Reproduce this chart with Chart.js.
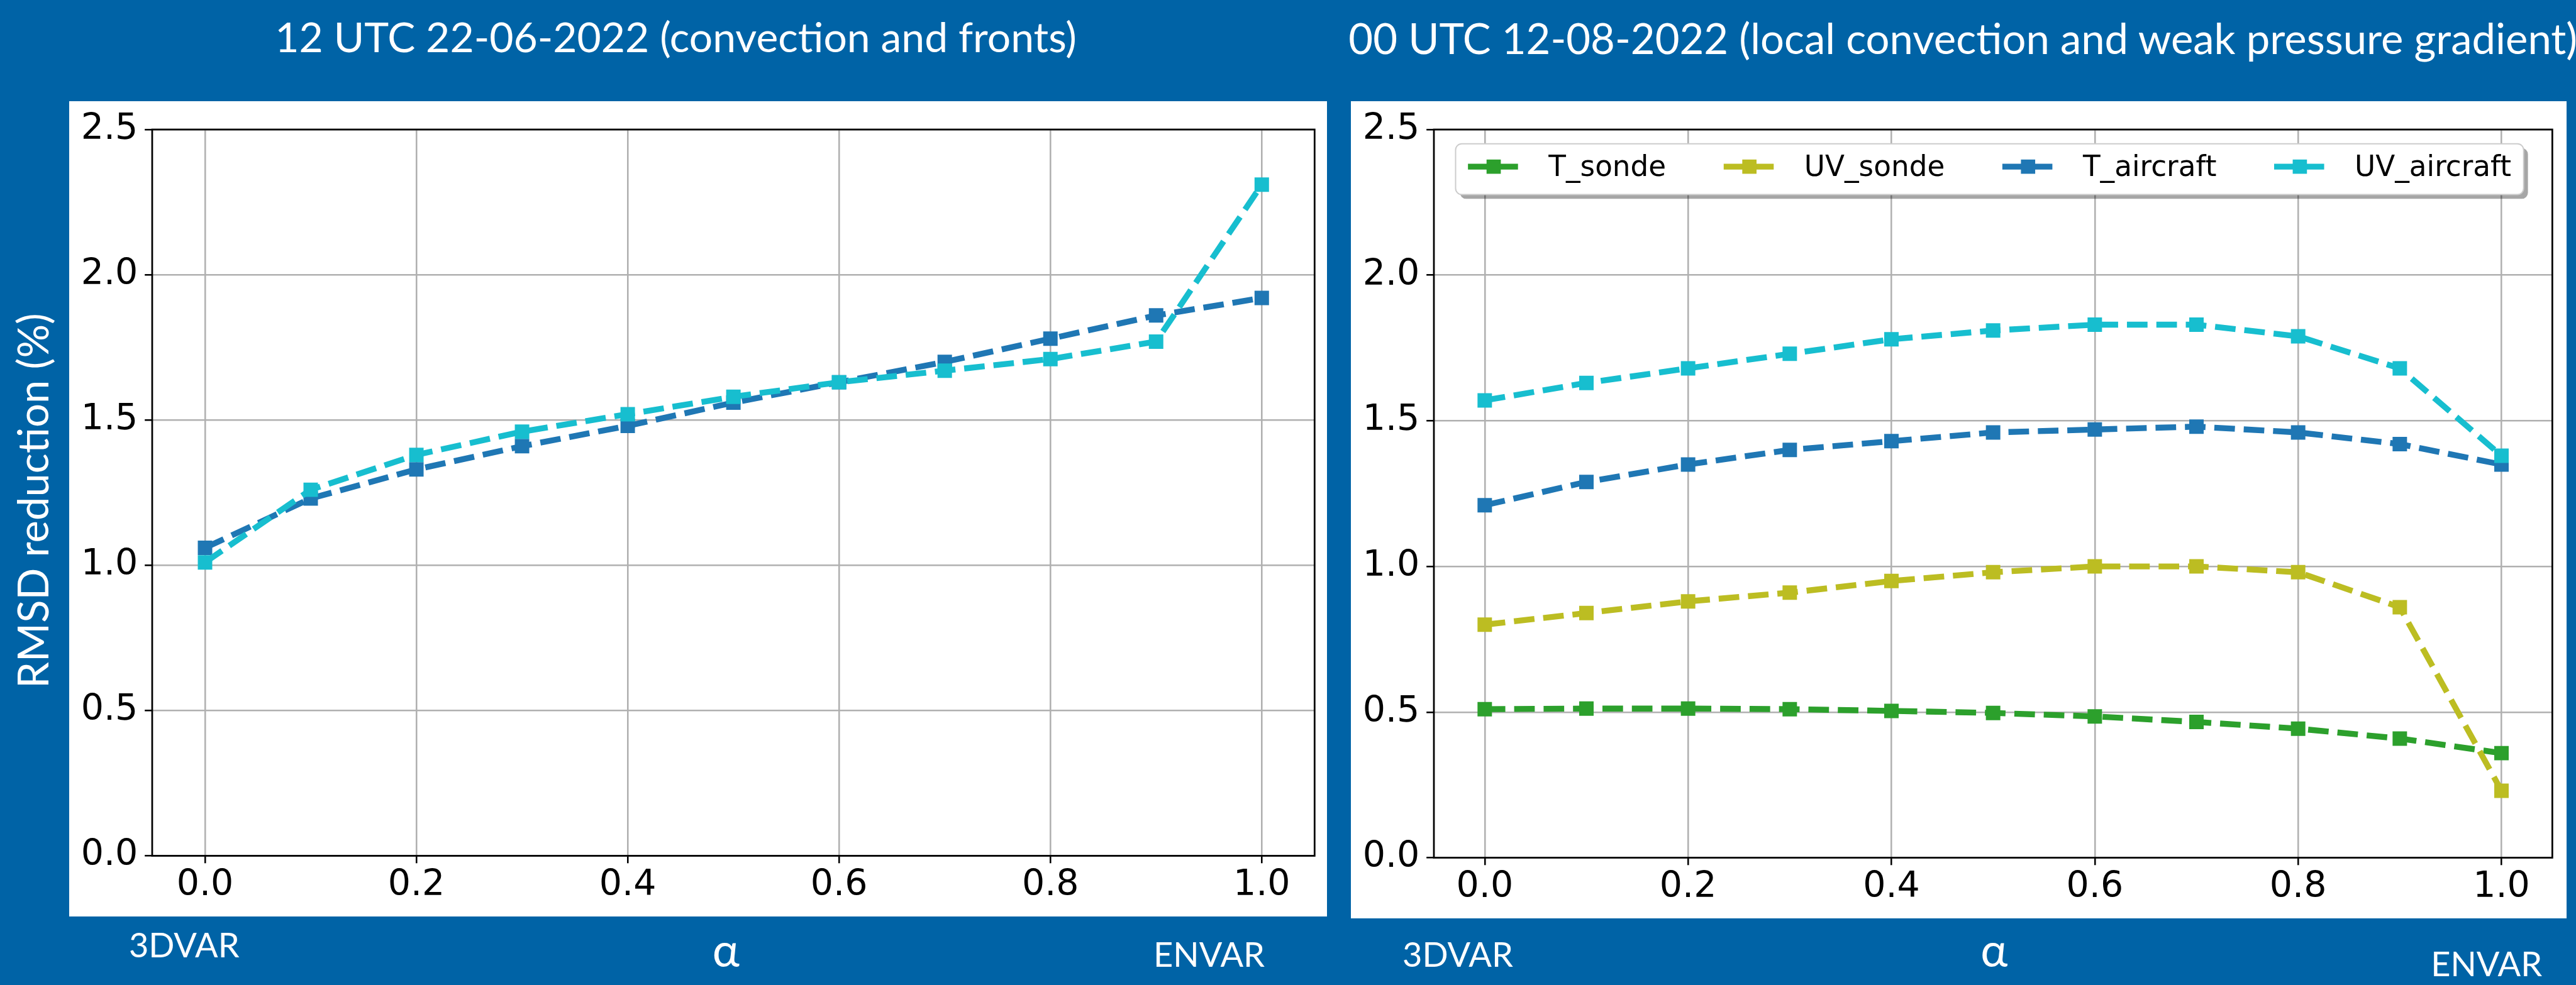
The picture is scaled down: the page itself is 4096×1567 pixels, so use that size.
<!DOCTYPE html>
<html>
<head>
<meta charset="utf-8">
<title>RMSD reduction vs alpha</title>
<script src="https://cdn.jsdelivr.net/npm/chart.js"></script>
<style>
  html, body { margin: 0; padding: 0; }
  body { width: 4096px; height: 1567px; background: #0063a6; position: relative; overflow: hidden; }
  .txt { position: absolute; color: #fff; font-family: Lato, "Open Sans", sans-serif; white-space: nowrap; line-height: 1; }
  canvas { position: absolute; background: #fff; }
</style>
</head>
<body>

<div class="txt" id="title-jun">12 UTC 22-06-2022 (convection and fronts)</div>
<div class="txt" id="title-aug">00 UTC 12-08-2022 (local convection and weak pressure gradient)</div>
<div class="txt" id="ylabel">RMSD reduction (%)</div>

<div class="txt" id="left-3dvar">3DVAR</div>
<div class="txt" id="left-alpha">α</div>
<div class="txt" id="left-envar">ENVAR</div>
<div class="txt" id="right-3dvar">3DVAR</div>
<div class="txt" id="right-alpha">α</div>
<div class="txt" id="right-envar">ENVAR</div>

<canvas id="chart-jun"></canvas>
<canvas id="chart-aug"></canvas>

<script>
(function () {
    "use strict";

    var S = 0.985;

    // Data
    var alphaValues = [0.0, 0.1, 0.2, 0.3, 0.4, 0.5, 0.6, 0.7, 0.8, 0.9, 1.0];
    var xTickValues = [0.0, 0.2, 0.4, 0.6, 0.8, 1.0];
    var yTickValues = [0.0, 0.5, 1.0, 1.5, 2.0, 2.5];

    // 12 UTC 22-06-2022
    var junT_aircraft  = [1.06, 1.23, 1.33, 1.41, 1.48, 1.56, 1.63, 1.70, 1.78, 1.86, 1.92];
    var junUV_aircraft = [1.01, 1.26, 1.38, 1.46, 1.52, 1.58, 1.63, 1.67, 1.71, 1.77, 2.31];

    // 00 UTC 12-08-2022
    var augT_sonde     = [0.51, 0.512, 0.512, 0.51, 0.504, 0.497, 0.485, 0.466, 0.443, 0.409, 0.359];
    var augUV_sonde    = [0.80, 0.84, 0.88, 0.91, 0.95, 0.98, 1.00, 1.00, 0.98, 0.86, 0.23];
    var augT_aircraft  = [1.21, 1.29, 1.35, 1.40, 1.43, 1.46, 1.47, 1.48, 1.46, 1.42, 1.35];
    var augUV_aircraft = [1.57, 1.63, 1.68, 1.73, 1.78, 1.81, 1.83, 1.83, 1.79, 1.68, 1.38];

    var colors = {
        T_sonde: "#2ca02c",
        UV_sonde: "#bcbd22",
        T_aircraft: "#1f77b4",
        UV_aircraft: "#17becf"
    };

    var LINE_W = 9.5 * S;


    // Text labels
    function place(id, left, baseline, size, centered) {
        var el = document.getElementById(id);
        el.style.fontSize = (size * S) + "px";
        el.style.left = (left * S) + "px";
        el.style.top = ((baseline - 0.887 * size) * S) + "px";
        if (centered) el.style.transform = "translateX(-50%)";
    }
    place("title-jun", 444, 85, 67);
    place("title-aug", 2177, 88, 68);
    place("left-3dvar", 208, 1547, 55);
    place("left-envar", 1862, 1562, 55);
    place("left-alpha", 1172, 1562, 74, true);
    place("right-3dvar", 2264, 1562, 55);
    place("right-envar", 3924, 1578, 55);
    place("right-alpha", 3219, 1562, 74, true);

    var yl = document.getElementById("ylabel");
    var ylSize = 68 * S;
    yl.style.fontSize = ylSize + "px";
    yl.style.width = "1000px";
    yl.style.height = ylSize + "px";
    yl.style.textAlign = "center";
    yl.style.left = (51.7 * S - 500) + "px";
    yl.style.top = (809 * S - ylSize / 2) + "px";
    yl.style.transform = "rotate(-90deg)";


    // Canvas panels
    function setupCanvas(id, left, top, width, height) {
        var c = document.getElementById(id);
        c.width = Math.round(width * S);
        c.height = Math.round(height * S);
        c.style.left = (left * S) + "px";
        c.style.top = (top * S) + "px";
        c.style.width = c.width + "px";
        c.style.height = c.height + "px";
        return c.getContext("2d");
    }


    // Axes frame (spines)
    var plotFrame = {
        id: "plotFrame",
        afterDatasetsDraw: function (chart) {
            var a = chart.chartArea, ctx = chart.ctx;
            ctx.save();
            ctx.strokeStyle = "#000";
            ctx.lineWidth = 2.8 * S;
            ctx.strokeRect(a.left, a.top, a.right - a.left, a.bottom - a.top);
            ctx.restore();
        }
    };


    // Legend inside the plot, matplotlib style
    function roundRect(ctx, x, y, w, h, r) {
        ctx.beginPath();
        ctx.moveTo(x + r, y);
        ctx.lineTo(x + w - r, y);
        ctx.arcTo(x + w, y, x + w, y + r, r);
        ctx.lineTo(x + w, y + h - r);
        ctx.arcTo(x + w, y + h, x + w - r, y + h, r);
        ctx.lineTo(x + r, y + h);
        ctx.arcTo(x, y + h, x, y + h - r, r);
        ctx.lineTo(x, y + r);
        ctx.arcTo(x, y, x + r, y, r);
        ctx.closePath();
    }

    var boxLegend = {
        id: "boxLegend",
        afterDraw: function (chart, args, opts) {
            if (!opts.display) return;
            var ctx = chart.ctx, a = chart.chartArea;
            var sets = chart.data.datasets;
            var font = (46 * S) + "px 'DejaVu Sans'";
            var boxX = a.left + 35 * S, boxY = a.top + 23 * S, boxH = 82 * S;
            var handleLen = 83 * S, textPad = 47 * S, colSpace = 93 * S;

            ctx.save();
            ctx.font = font;
            var x = boxX + 20 * S, items = [];
            sets.forEach(function (ds) {
                var w = ctx.measureText(ds.label).width;
                items.push({ ds: ds, hx: x, tx: x + handleLen + textPad });
                x = x + handleLen + textPad + w + colSpace;
            });
            var boxW = x - colSpace + 20 * S - boxX;

            // shadow + frame
            roundRect(ctx, boxX + 7 * S, boxY + 7 * S, boxW, boxH, 10 * S);
            ctx.fillStyle = "rgba(0,0,0,0.35)";
            ctx.fill();
            roundRect(ctx, boxX, boxY, boxW, boxH, 10 * S);
            ctx.fillStyle = "#fff";
            ctx.fill();
            ctx.strokeStyle = "#cccccc";
            ctx.lineWidth = 2 * S;
            ctx.stroke();

            var hy = boxY + 37 * S, ty = boxY + 40.5 * S, side = 23 * S;
            items.forEach(function (it) {
                ctx.strokeStyle = it.ds.borderColor;
                ctx.lineWidth = LINE_W;
                ctx.setLineDash(it.ds.borderDash);
                ctx.beginPath();
                ctx.moveTo(it.hx, hy);
                ctx.lineTo(it.hx + handleLen, hy);
                ctx.stroke();
                ctx.setLineDash([]);
                ctx.fillStyle = it.ds.borderColor;
                ctx.fillRect(it.hx + handleLen / 2 - side / 2, hy - side / 2, side, side);
                ctx.fillStyle = "#000";
                ctx.textBaseline = "middle";
                ctx.textAlign = "left";
                ctx.fillText(it.ds.label, it.tx, ty);
            });
            ctx.restore();
        }
    };


    function makeDataset(label, values, order) {
        return {
            label: label,
            data: alphaValues.map(function (a, i) { return { x: a, y: values[i] }; }),
            borderColor: colors[label],
            backgroundColor: colors[label],
            borderWidth: LINE_W,
            borderDash: [3.5 * LINE_W, 1.5 * LINE_W],
            pointStyle: "rect",
            pointRadius: 16.5 * S,
            pointBorderWidth: 0,
            pointBackgroundColor: colors[label],
            tension: 0,
            order: order
        };
    }

    var tickFont = { family: "DejaVu Sans", size: 57 };
    var gridStyle = {
        color: "#b0b0b0",
        lineWidth: 2.6 * S,
        tickLength: 12 * S,
        tickColor: "#000",
        tickWidth: 2.6 * S
    };

    function makeOptions(padTop, padRight, showLegend) {
        return {
            responsive: false,
            devicePixelRatio: 1,
            animation: false,
            layout: { padding: { left: 0, top: padTop * S, right: padRight * S, bottom: 0 } },
            plugins: {
                legend: { display: false },
                tooltip: { enabled: false },
                boxLegend: { display: showLegend }
            },
            scales: {
                x: {
                    type: "linear",
                    min: -0.05,
                    max: 1.05,
                    afterBuildTicks: function (scale) {
                        scale.ticks = xTickValues.map(function (v) { return { value: v }; });
                    },
                    afterFit: function (scale) { scale.height = 98 * S; },
                    border: { display: false },
                    grid: gridStyle,
                    ticks: {
                        font: tickFont,
                        color: "#000",
                        padding: 2 * S,
                        maxRotation: 0,
                        callback: function (v) { return Number(v).toFixed(1); }
                    }
                },
                y: {
                    type: "linear",
                    min: 0,
                    max: 2.5,
                    afterBuildTicks: function (scale) {
                        scale.ticks = yTickValues.map(function (v) { return { value: v }; });
                    },
                    afterFit: function (scale) { scale.width = 134 * S; },
                    border: { display: false },
                    grid: gridStyle,
                    ticks: {
                        font: tickFont,
                        color: "#000",
                        padding: 11 * S,
                        callback: function (v) { return Number(v).toFixed(1); }
                    }
                }
            }
        };
    }


    // 12 UTC 22-06-2022 chart
    var ctx1 = setupCanvas("chart-jun", 112, 163, 2030, 1317);
    new Chart(ctx1, {
        type: "line",
        data: {
            datasets: [
                makeDataset("T_aircraft", junT_aircraft, 1),
                makeDataset("UV_aircraft", junUV_aircraft, 0)
            ]
        },
        options: makeOptions(44, 20, false),
        plugins: [plotFrame, boxLegend]
    });


    // 00 UTC 12-08-2022 chart
    var ctx2 = setupCanvas("chart-aug", 2181, 163, 1962, 1320);
    new Chart(ctx2, {
        type: "line",
        data: {
            datasets: [
                makeDataset("T_sonde", augT_sonde, 3),
                makeDataset("UV_sonde", augUV_sonde, 2),
                makeDataset("T_aircraft", augT_aircraft, 1),
                makeDataset("UV_aircraft", augUV_aircraft, 0)
            ]
        },
        options: makeOptions(45, 23, true),
        plugins: [plotFrame, boxLegend]
    });

})();
</script>
</body>
</html>
